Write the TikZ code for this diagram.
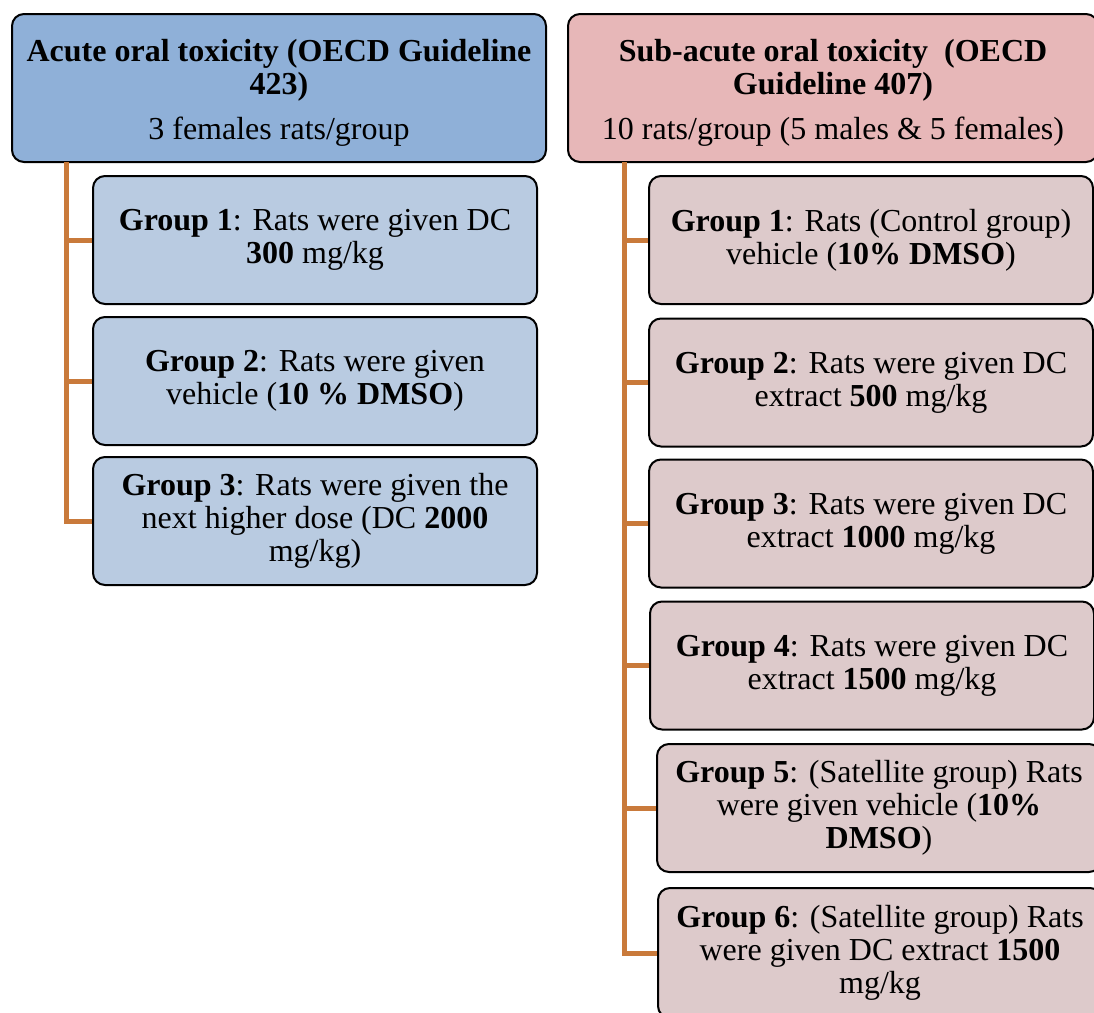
\documentclass[tikz,border=0pt]{standalone}
\usepackage{fontspec}
\setmainfont{Liberation Serif}

\definecolor{blueHead}{HTML}{8FB0D8}
\definecolor{blueKid}{HTML}{B9CBE1}
\definecolor{pinkHead}{HTML}{E7B7B8}
\definecolor{pinkKid}{HTML}{DDCACB}
\definecolor{branch}{HTML}{C97A3B}

\tikzset{
  box/.style={draw=black, line width=1pt, rounded corners=6pt, align=center,
    inner sep=2pt, font=\fontsize{16}{16.4}\selectfont},
  headbox/.style={box, minimum width=267pt, minimum height=74pt},
  kidbox/.style={box, minimum width=222pt, minimum height=64pt},
  link/.style={draw=branch, line width=2.5pt}
}

\begin{document}
\begin{tikzpicture}[x=0.5pt,y=-0.5pt]
\useasboundingbox (0,0) rectangle (1094,1013);

% acute branch
\node[headbox, fill=blueHead] (hdL) at (279,88)
  {\rule{0pt}{16pt}\textbf{Acute oral toxicity (OECD Guideline}\\\textbf{423)}\\[6pt]3 females rats/group};
\node[kidbox, fill=blueKid] (L1) at (315,240)
  {\textbf{Group 1}: Rats were given DC\\\textbf{300} mg/kg};
\node[kidbox, fill=blueKid] (L2) at (315,381)
  {\textbf{Group 2}: Rats were given\\vehicle (\textbf{10 \% DMSO})};
\node[kidbox, fill=blueKid] (L3) at (315,521)
  {\textbf{Group 3}: Rats were given the\\next higher dose (DC \textbf{2000}\\mg/kg)};

% sub-acute branch
\node[headbox, fill=pinkHead, minimum width=265pt] (hdR) at (833,88)
  {\rule{0pt}{16pt}\textbf{Sub-acute oral toxicity\ \ (OECD}\\\textbf{Guideline 407)}\\[6pt]10 rats/group (5 males \& 5 females)};
\node[kidbox, fill=pinkKid] (R1) at (871,240)
  {\textbf{Group 1}: Rats (Control group)\\vehicle (\textbf{10\% DMSO})};
\node[kidbox, fill=pinkKid] (R2) at (871,382.5)
  {\textbf{Group 2}: Rats were given DC\\extract \textbf{500} mg/kg};
\node[kidbox, fill=pinkKid] (R3) at (871,523.5)
  {\textbf{Group 3}: Rats were given DC\\extract \textbf{1000} mg/kg};
\node[kidbox, fill=pinkKid] (R4) at (872,665.5)
  {\textbf{Group 4}: Rats were given DC\\extract \textbf{1500} mg/kg};
\node[kidbox, fill=pinkKid] (R5) at (879,808)
  {\textbf{Group 5}: (Satellite group) Rats\\were given vehicle (\textbf{10\%}\\\textbf{DMSO})};
\node[kidbox, fill=pinkKid, minimum height=65pt] (R6) at (880,953)
  {\textbf{Group 6}: (Satellite group) Rats\\were given DC extract \textbf{1500}\\mg/kg};

% connectors
\coordinate (trunkL) at (66,162);
\coordinate (trunkR) at (624,162);
\foreach \k in {L1,L2,L3}
  \draw[link] (trunkL) |- (\k.west);
\foreach \k in {R1,R2,R3,R4,R5,R6}
  \draw[link] (trunkR) |- (\k.west);
\end{tikzpicture}
\end{document}
